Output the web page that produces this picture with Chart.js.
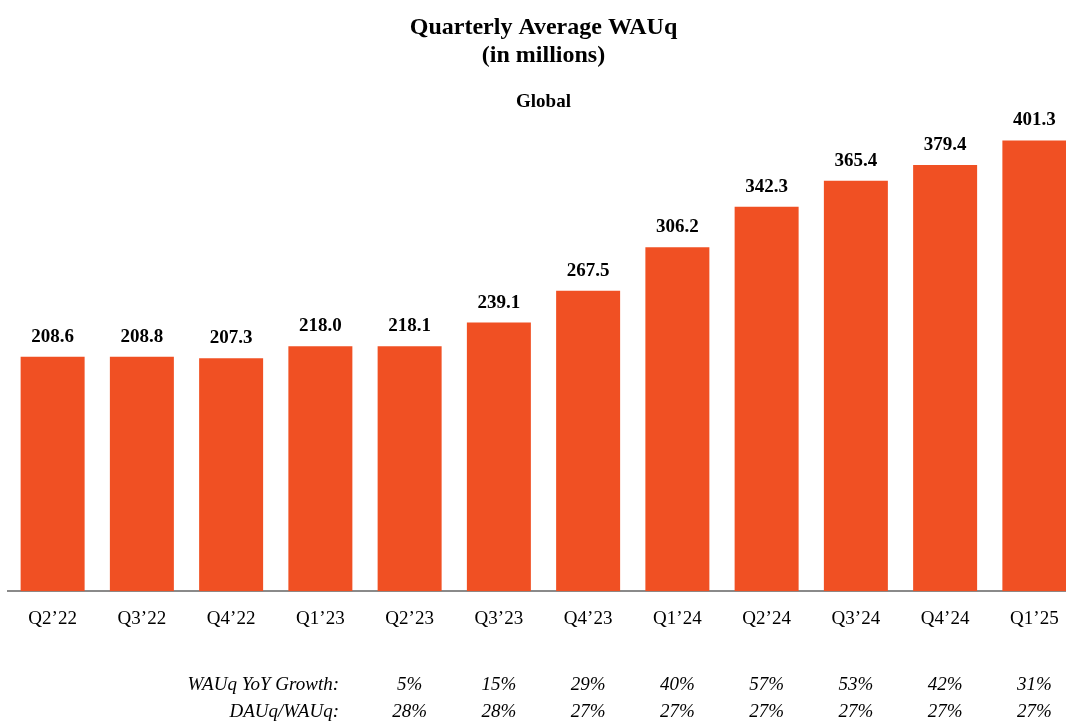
<!DOCTYPE html>
<html>
<head>
<meta charset="utf-8">
<script src="https://cdn.jsdelivr.net/npm/chart.js@4/dist/chart.umd.min.js"></script>
<style>
  html, body { margin: 0; padding: 0; background: #fff; overflow: hidden; }
  #wrap { width: 1066px; height: 721px; overflow: hidden; }
</style>
</head>
<body>
<div id="wrap"><canvas id="wauq" width="1087" height="721"></canvas></div>
<script>
// quarters, WAUq (millions), and the two ratio rows under the axis
const quarters = ['Q2’22', 'Q3’22', 'Q4’22', 'Q1’23', 'Q2’23', 'Q3’23', 'Q4’23', 'Q1’24', 'Q2’24', 'Q3’24', 'Q4’24', 'Q1’25']
const wauq = [208.6, 208.8, 207.3, 218.0, 218.1, 239.1, 267.5, 306.2, 342.3, 365.4, 379.4, 401.3]
const yoyGrowth = [null, null, null, null, '5%', '15%', '29%', '40%', '57%', '53%', '42%', '31%']
const dauRatio = [null, null, null, null, '28%', '28%', '27%', '27%', '27%', '27%', '27%', '27%']
const rowLabels = ['WAUq YoY Growth:', 'DAUq/WAUq:']

const SERIF = '"Liberation Serif", "Times New Roman", serif'
const BAR = '#f05023'

// numbers on top of each bar
const valueLabels = {
  id: 'valueLabels',
  afterDatasetsDraw(chart) {
    const ctx = chart.ctx
    const meta = chart.getDatasetMeta(0)
    ctx.save()
    ctx.font = 'bold 19px ' + SERIF
    ctx.fillStyle = '#000'
    ctx.textAlign = 'center'
    ctx.textBaseline = 'middle'
    meta.data.forEach((bar, i) => {
      ctx.fillText(wauq[i].toFixed(1), bar.x, bar.y - 20)
    })
    ctx.restore()
  }
}

// italic stats rows below the quarter labels
const statRows = {
  id: 'statRows',
  afterDraw(chart) {
    const ctx = chart.ctx
    const x = chart.scales.x
    const rows = [yoyGrowth, dauRatio]
    const ys = [685, 712]
    ctx.save()
    ctx.font = 'italic 19px ' + SERIF
    ctx.fillStyle = '#000'
    ctx.textBaseline = 'middle'
    rows.forEach((row, r) => {
      ctx.textAlign = 'right'
      ctx.fillText(rowLabels[r], 339, ys[r])
      ctx.textAlign = 'center'
      row.forEach((v, i) => {
        if (v) ctx.fillText(v, x.getPixelForValue(i), ys[r])
      })
    })
    ctx.restore()
  }
}

new Chart(document.getElementById('wauq'), {
  type: 'bar',
  data: {
    labels: quarters,
    datasets: [{
      data: wauq,
      backgroundColor: BAR,
      borderWidth: 0,
      barPercentage: 0.717,
      categoryPercentage: 1
    }]
  },
  options: {
    responsive: false,
    animation: false,
    layout: { padding: { left: 8, right: 8, top: 0, bottom: 75 } },
    plugins: {
      legend: { display: false },
      tooltip: { enabled: false },
      title: {
        display: true,
        text: ['Quarterly Average WAUq', '(in millions)'],
        color: '#000',
        font: { family: SERIF, size: 24, weight: 'bold', lineHeight: 1.2 },
        padding: { top: 13, bottom: 10 }
      },
      subtitle: {
        display: true,
        text: 'Global',
        color: '#000',
        font: { family: SERIF, size: 19, weight: 'bold', lineHeight: 1.2 },
        padding: { top: 10, bottom: 6 }
      }
    },
    scales: {
      x: {
        grid: { display: false, drawTicks: false },
        border: { display: true, color: '#8a8a8a', width: 2 },
        ticks: {
          color: '#000',
          font: { family: SERIF, size: 19 },
          padding: 16,
          maxRotation: 0
        }
      },
      y: {
        display: false,
        min: 0,
        max: 420
      }
    }
  },
  plugins: [valueLabels, statRows]
})
</script>
</body>
</html>
